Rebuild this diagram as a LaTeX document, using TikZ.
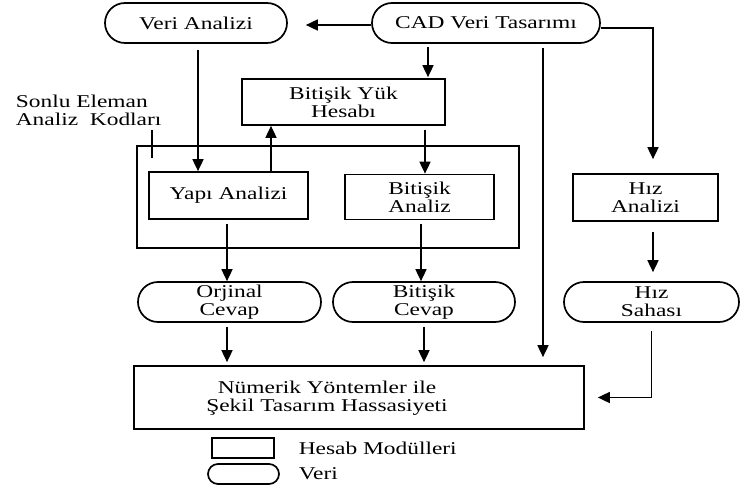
\documentclass[tikz,border=0pt]{standalone}
\usepackage{fontspec}
\setmainfont{Liberation Serif}[FakeStretch=1.3]
\usepackage{tikz}
\usetikzlibrary{calc,positioning,shapes}
\usetikzlibrary{arrows.meta}
\tikzstyle{every node}=[line width=1.7pt]
\tikzset{arr/.style={-{Triangle[width=11pt,length=12pt]}}}

\begin{document}
\begin{tikzpicture}[x=1pt, y=-1pt, line width=1.7pt,
    every node/.append style={font=\fontsize{18}{18}\selectfont}]
      \tikzstyle{hnode} = [draw, rectangle, inner sep = 0pt, align=center]
      \tikzstyle{vnode} = [draw, rounded rectangle, inner sep = 0pt, align=center]
      \tikzstyle{tnode} = [inner sep = 0pt, align=left]

      \useasboundingbox (0,0) rectangle (740,490);

      % veri dugumleri
      \node[vnode, minimum width=182pt, minimum height=40pt] (veri) at (196,23) {Veri Analizi};
      \node[vnode, minimum width=228pt, minimum height=40pt] (cad) at (486,23) {CAD Veri Tasarımı};
      \node[vnode, minimum width=183pt, minimum height=40pt] (orj) at (229.5,302) {Orjinal\\Cevap};
      \node[vnode, minimum width=182pt, minimum height=40pt] (bitcev) at (424,302) {Bitişik\\Cevap};
      \node[vnode, minimum width=175pt, minimum height=40pt] (hizsah) at (651.5,302) {Hız\\Sahası};

      % hesap modulleri
      \node[hnode, minimum width=203pt, minimum height=46pt] (yuk) at (343.5,102) {Bitişik Yük\\Hesabı};
      \node[hnode, minimum width=382pt, minimum height=102pt] (kod) at (328,197) {};
      \node[hnode, minimum width=159pt, minimum height=47pt] (yapi) at (228.5,195.5) {Yapı Analizi};
      \node[hnode, minimum width=149pt, minimum height=45pt] (bitan) at (419.5,197) {Bitişik\\Analiz};
      \node[hnode, minimum width=145pt, minimum height=47pt] (hizan) at (645.5,197.5) {Hız\\Analizi};
      \node[hnode, minimum width=450pt, minimum height=63pt] (num) at (359,397.5) {};
      \node[tnode, align=center] (numtxt) at (327,398) {Nümerik Yöntemler ile\\Şekil Tasarım Hassasiyeti};

      \node[tnode, anchor=north west] (sonlu) at (15,94) {Sonlu Eleman\\Analiz\ \ Kodları};
      \coordinate (ldr1) at (152,130);
      \coordinate (ldr2) at (152,158);
      \draw[-] (ldr1) to (ldr2);

      % oklar
      \draw[arr, shorten >=18pt] ([yshift=-2pt]cad.west) to ([yshift=-2pt]veri.east);
      \draw[arr, shorten <=3pt, shorten >=1pt] ([xshift=-58pt]cad.south) to ([xshift=84.5pt]yuk.north);
      \draw[arr, shorten <=6pt] ([xshift=2pt]veri.south) to ([xshift=-30.5pt]yapi.north);
      \draw[arr] ([xshift=42.5pt]yapi.north) to ([xshift=-72.5pt]yuk.south);
      \draw[arr, shorten <=4pt] ([xshift=81.5pt]yuk.south) to ([xshift=5.5pt]bitan.north);
      \draw[arr, shorten <=4pt] ([xshift=-1.5pt]yapi.south) to ([xshift=-1.5pt]yapi.south |- orj.north);
      \draw[arr, shorten <=4pt] ([xshift=1.5pt]bitan.south) to ([xshift=1.5pt]bitan.south |- bitcev.north);
      \draw[arr, shorten <=4pt, shorten >=3pt] ([xshift=-2.5pt]orj.south) to ([xshift=-2.5pt]orj.south |- num.north);
      \draw[arr, shorten <=4pt, shorten >=3pt] (bitcev.south) to (bitcev.south |- num.north);
      \draw[arr, shorten <=4pt, shorten >=8pt] ([xshift=57pt]cad.south) to ([xshift=184pt]num.north);
      \draw[arr, shorten >=14pt] ([yshift=-5pt]cad.east) -| ([xshift=7.5pt]hizan.north);
      \draw[arr, shorten <=10pt, shorten >=9pt] ([xshift=7.5pt]hizan.south) to ([xshift=1.5pt]hizsah.north);
      \draw[arr, shorten <=8pt, shorten >=13pt] (hizsah.south) |- (num.east);

      % aciklama
      \node[hnode, minimum width=62pt, minimum height=20pt] (lgh) at (243,448) {};
      \node[vnode, minimum width=71pt, minimum height=20pt] (lgv) at (243.5,474) {};
      \node[tnode, anchor=west] (lghtxt) at (298,448) {Hesab Modülleri};
      \node[tnode, anchor=west] (lgvtxt) at (298,474) {Veri};
    \end{tikzpicture}
\end{document}
